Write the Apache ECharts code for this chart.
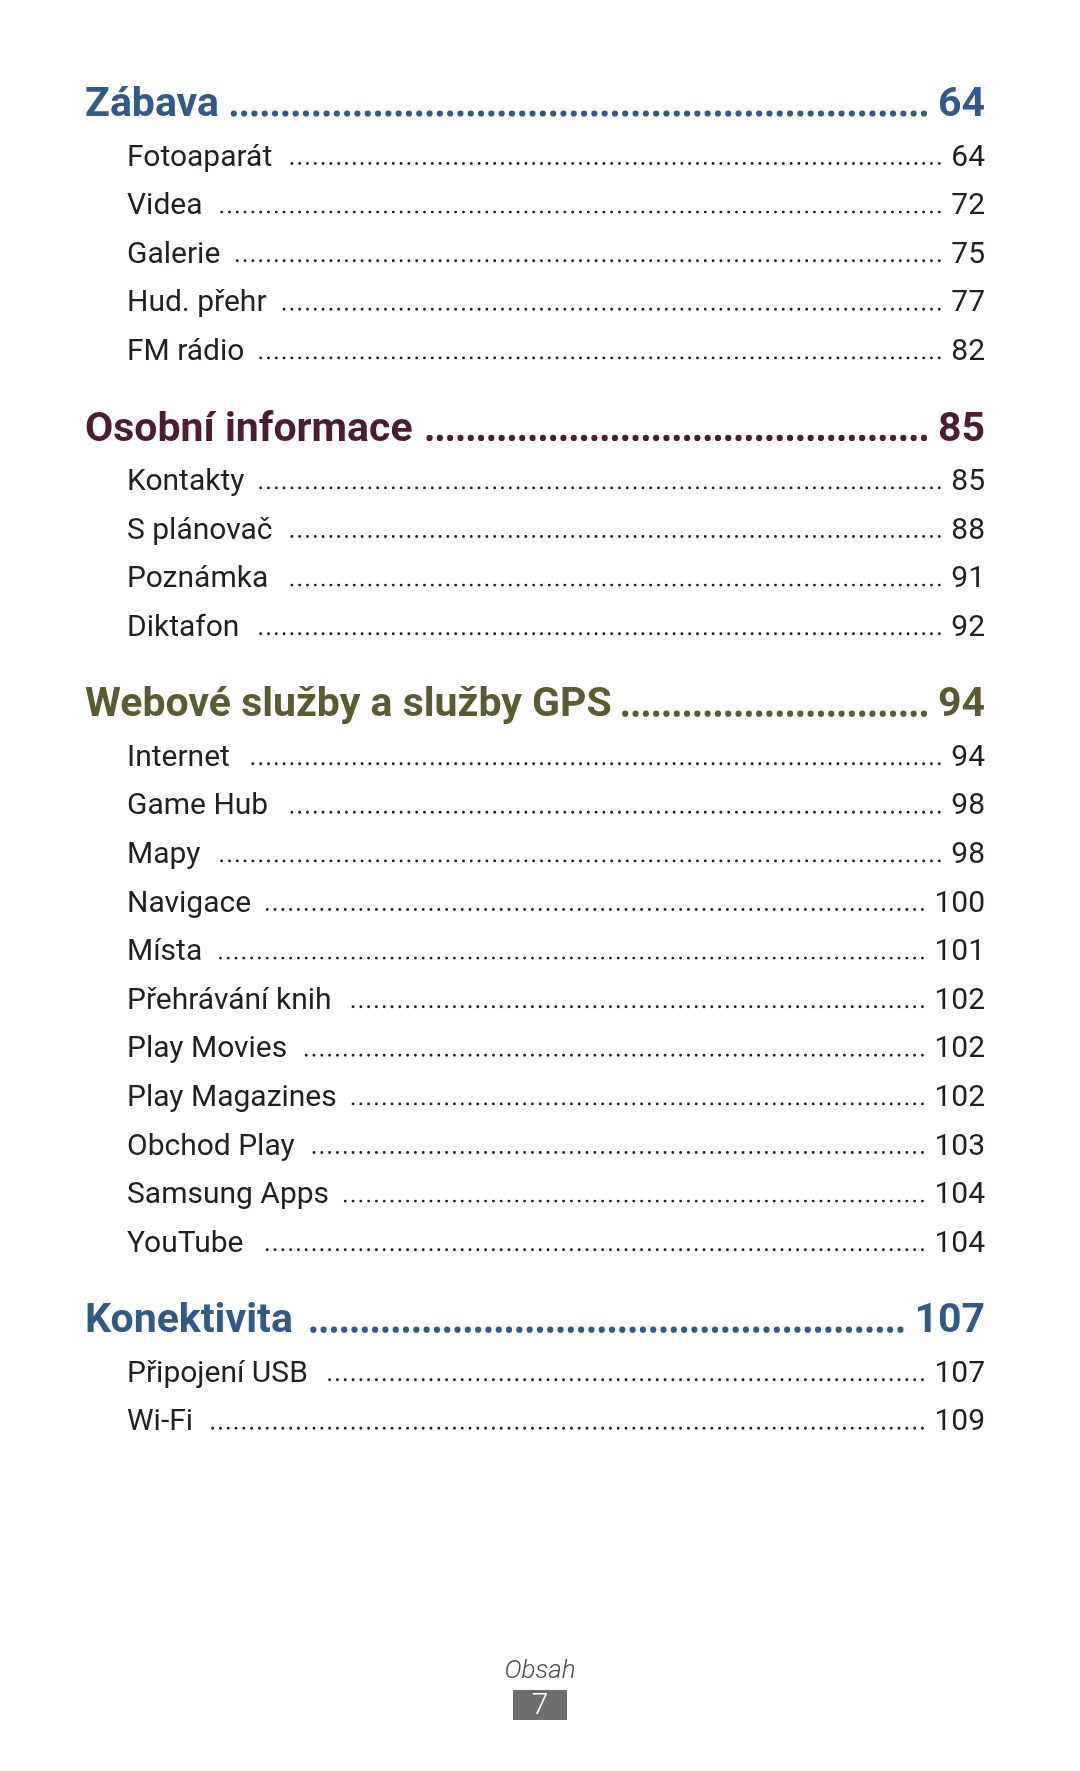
<!DOCTYPE html>
<html><head><meta charset="utf-8">
<script src="https://cdn.jsdelivr.net/npm/echarts@6/dist/echarts.min.js"></script>
<style>html,body{margin:0;padding:0;background:#fff}#c{width:1080px;height:1771px}</style>
</head><body><div id="c"></div>
<script>
// ---- data ----
const sectionTitles = ['Zábava', 'Osobní informace', 'Webové služby a služby GPS', 'Konektivita'];
const sectionPages = [64, 85, 94, 107];
const entryTitles = [
  ['Fotoaparát', 'Videa', 'Galerie', 'Hud. přehr', 'FM rádio'],
  ['Kontakty', 'S plánovač', 'Poznámka', 'Diktafon'],
  ['Internet', 'Game Hub', 'Mapy', 'Navigace', 'Místa', 'Přehrávání knih', 'Play Movies', 'Play Magazines', 'Obchod Play', 'Samsung Apps', 'YouTube'],
  ['Připojení USB', 'Wi-Fi']
];
const entryPages = [
  [64, 72, 75, 77, 82],
  [85, 88, 91, 92],
  [94, 98, 98, 100, 101, 102, 102, 102, 103, 104, 104],
  [107, 109]
];
const footerLabel = 'Obsah';
const footerPage = 7;

// ---- styles / layout ----
const sectionColors = ['#2f5a8a', '#4b1c33', '#5b5a30', '#2f5a8a'];
const textColor = '#231f20';
const HEAD_FONT = 'bold 41px Roboto';
const SUB_FONT = 'normal 30px Roboto';
const layout = { top: 103, headToEntry: 52, entryStep: 48.6, entryToHead: 78, headX: 85, subX: 127, rightX: 985, textShift: 3, footerY: 1669, footerBoxY: 1705 };

const rows = [];
let y = layout.top;
sectionTitles.forEach((t, s) => {
  if (s > 0) y += layout.entryToHead;
  rows.push({ level: 0, title: t, page: sectionPages[s], color: sectionColors[s], y });
  y += layout.headToEntry;
  entryTitles[s].forEach((e, k) => {
    if (k > 0) y += layout.entryStep;
    rows.push({ level: 1, title: e, page: entryPages[s][k], color: textColor, y });
  });
});

function textW(str, font) {
  const t = new echarts.graphic.Text({ style: { text: str, font: font } });
  return t.getBoundingRect().width;
}

const chart = echarts.init(document.getElementById('c'), null, { renderer: 'canvas' });
chart.setOption({
  animation: false,
  backgroundColor: '#ffffff',
  grid: { left: 0, right: 0, top: 0, bottom: 0 },
  xAxis: { type: 'value', min: 0, max: 1080, show: false },
  yAxis: { type: 'value', min: 0, max: 1771, inverse: true, show: false },
  series: [{
    type: 'custom',
    coordinateSystem: 'cartesian2d',
    data: rows.map(r => [r.level ? layout.subX : layout.headX, r.y]),
    renderItem: function (params, api) {
      const r = rows[params.dataIndex];
      const head = r.level === 0;
      const font = head ? HEAD_FONT : SUB_FONT;
      const pL = api.coord([api.value(0), api.value(1)]);
      const pR = api.coord([layout.rightX, api.value(1)]);
      const tw = textW(r.title, font);
      const nw = textW(String(r.page), font);
      const gapL = head ? 11 : 16;
      const gapR = head ? 14 : 12;
      const sp = head ? 10.3 : 7.8;
      const dotD = head ? 6.2 : 2.9;
      const dotY = pL[1] + (head ? 10.5 : 8.5);
      const ty = pL[1] + layout.textShift;
      const end = pR[0] - nw - gapR;
      const startMin = pL[0] + tw + gapL;
      const n = Math.floor((end - startMin) / sp);
      const start = end - n * sp;
      return {
        type: 'group',
        children: [
          { type: 'text', style: { text: r.title, x: pL[0], y: ty, font, fill: r.color, align: 'left', verticalAlign: 'middle' } },
          { type: 'text', style: { text: String(r.page), x: pR[0], y: ty, font, fill: r.color, align: 'right', verticalAlign: 'middle' } },
          { type: 'line', shape: { x1: start, y1: dotY, x2: end + sp * 0.4, y2: dotY },
            style: { stroke: r.color, lineWidth: dotD, lineDash: [0, sp], lineCap: 'round' } }
        ]
      };
    }
  }, {
    type: 'custom',
    coordinateSystem: 'cartesian2d',
    data: [[540, layout.footerY, 0], [540, layout.footerBoxY, 1]],
    renderItem: function (params, api) {
      const p = api.coord([api.value(0), api.value(1)]);
      if (api.value(2) === 0) {
        return { type: 'text', style: { text: footerLabel, x: p[0], y: p[1] + 2, font: 'italic 300 26px Roboto', fill: '#4a4a4a', align: 'center', verticalAlign: 'middle' } };
      }
      return {
        type: 'group',
        children: [
          { type: 'rect', shape: { x: p[0] - 27, y: p[1] - 15, width: 54, height: 30 }, style: { fill: '#6e6e6e' } },
          { type: 'text', style: { text: String(footerPage), x: p[0], y: p[1] + 1, font: '300 30px Roboto', fill: '#ffffff', align: 'center', verticalAlign: 'middle' } }
        ]
      };
    }
  }]
});
</script>
</body></html>
